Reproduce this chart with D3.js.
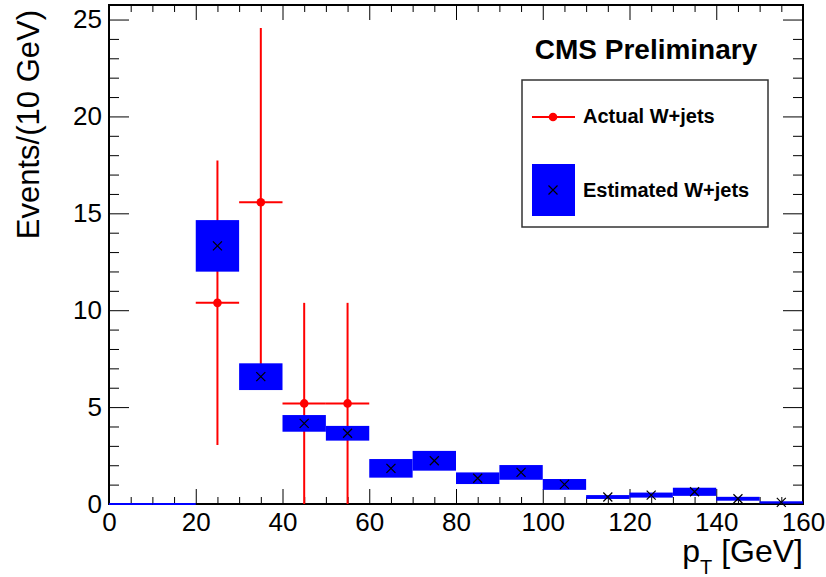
<!DOCTYPE html>
<html>
<head>
<meta charset="utf-8">
<script src="https://cdn.jsdelivr.net/npm/d3@7"></script>
<style>
  body { margin: 0; background: #fff; }
  svg { display: block; font-family: "Liberation Sans", Arial, Helvetica, sans-serif; }
</style>
</head>
<body>
<div id="chart"></div>
<script>
// bins of 10 GeV, lower edges
const binStarts = [0, 10, 20, 30, 40, 50, 60, 70, 80, 90, 100, 110, 120, 130, 140, 150];
const binWidth = 10;

// estimated W+jets (blue boxes): central value and error
const estValue = [0, 0, 13.32, 6.57, 4.16, 3.65, 1.84, 2.23, 1.33, 1.63, 1.01, 0.36, 0.46, 0.63, 0.27, 0.08];
const estError = [0, 0, 1.33, 0.69, 0.43, 0.38, 0.48, 0.51, 0.30, 0.38, 0.28, 0.10, 0.13, 0.21, 0.10, 0.06];

// actual W+jets (red points)
const actualBins = [20, 30, 40, 50];
const actualValue = [10.38, 15.57, 5.19, 5.19];
const actualError = [7.34, 8.99, 5.19, 5.19];

const xMajor = [0, 20, 40, 60, 80, 100, 120, 140, 160];
const yMajor = [0, 5, 10, 15, 20, 25];

const W = 826, H = 577;
const margin = { left: 109, right: 23, top: 5, bottom: 73 };

const svg = d3.select("#chart").append("svg")
    .attr("width", W)
    .attr("height", H);

svg.append("rect").attr("width", W).attr("height", H).style("fill", "#fff");

const x = d3.scaleLinear().domain([0, 160]).range([margin.left, W - margin.right]);
const y = d3.scaleLinear().domain([0, 25.75]).range([H - margin.bottom, margin.top]);

const xMinor = d3.range(0, 161, 5).filter(d => d % 20 !== 0);
const yMinor = d3.range(0, 26, 1).filter(d => d % 5 !== 0);

// bottom axis
const gb = svg.append("g").attr("transform", "translate(0," + y(0) + ")");
gb.call(d3.axisBottom(x).tickValues(xMajor).tickSizeInner(-15).tickSizeOuter(0).tickPadding(9));
gb.append("g").call(d3.axisBottom(x).tickValues(xMinor).tickSizeInner(-7).tickSizeOuter(0).tickFormat(""));

// top axis
const gt = svg.append("g").attr("transform", "translate(0," + y.range()[1] + ")");
gt.call(d3.axisTop(x).tickValues(xMajor).tickSizeInner(-15).tickSizeOuter(0).tickFormat(""));
gt.append("g").call(d3.axisTop(x).tickValues(xMinor).tickSizeInner(-7).tickSizeOuter(0).tickFormat(""));

// left axis
const gl = svg.append("g").attr("transform", "translate(" + x(0) + ",0)");
gl.call(d3.axisLeft(y).tickValues(yMajor).tickSizeInner(-20).tickSizeOuter(0).tickPadding(7));
gl.append("g").call(d3.axisLeft(y).tickValues(yMinor).tickSizeInner(-10).tickSizeOuter(0).tickFormat(""));

// right axis
const gr = svg.append("g").attr("transform", "translate(" + x(160) + ",0)");
gr.call(d3.axisRight(y).tickValues(yMajor).tickSizeInner(-20).tickSizeOuter(0).tickFormat(""));
gr.append("g").call(d3.axisRight(y).tickValues(yMinor).tickSizeInner(-10).tickSizeOuter(0).tickFormat(""));

svg.selectAll(".domain").remove();
svg.selectAll(".tick line").attr("stroke", "#000").attr("stroke-width", 1);
svg.selectAll(".tick text")
    .attr("fill", "#000")
    .style("font-size", "26px")
    .style("font-family", "'Liberation Sans', Arial, Helvetica, sans-serif");

// frame
svg.append("rect")
    .attr("x", x(0)).attr("y", y.range()[1])
    .attr("width", x(160) - x(0)).attr("height", y(0) - y.range()[1])
    .attr("fill", "none")
    .attr("stroke", "#000")
    .attr("stroke-width", 2);

// actual W+jets error bars
const actual = actualBins.map((b, i) => ({ lo: b, v: actualValue[i], e: actualError[i] }));
const red = "#ff0000";
const ga = svg.append("g");
ga.selectAll("line.v")
    .data(actual)
    .enter().append("line")
    .attr("class", "v")
    .attr("x1", d => x(d.lo + binWidth / 2)).attr("x2", d => x(d.lo + binWidth / 2))
    .attr("y1", d => y(Math.max(0, d.v - d.e))).attr("y2", d => y(d.v + d.e))
    .attr("stroke", red).attr("stroke-width", 2);
ga.selectAll("line.h")
    .data(actual)
    .enter().append("line")
    .attr("class", "h")
    .attr("x1", d => x(d.lo)).attr("x2", d => x(d.lo + binWidth))
    .attr("y1", d => y(d.v)).attr("y2", d => y(d.v))
    .attr("stroke", red).attr("stroke-width", 2);

// estimated W+jets boxes
const est = binStarts.map((b, i) => ({ lo: b, v: estValue[i], e: estError[i] }));
const blue = "#0000ff";
svg.append("g").selectAll("rect")
    .data(est)
    .enter().append("rect")
    .attr("x", d => x(d.lo))
    .attr("width", d => x(d.lo + binWidth) - x(d.lo))
    .attr("y", d => d.e > 0 ? y(d.v + d.e) : y(0) - 1)
    .attr("height", d => d.e > 0 ? Math.max(2, y(Math.max(0, d.v - d.e)) - y(d.v + d.e)) : 2)
    .attr("fill", blue);

// X markers
const mk = 4.5;
const gm = svg.append("g");
est.filter(d => d.v > 0).forEach(d => {
    const cx = x(d.lo + binWidth / 2), cy = y(d.v);
    gm.append("path")
        .attr("d", `M${cx - mk},${cy - mk}L${cx + mk},${cy + mk}M${cx - mk},${cy + mk}L${cx + mk},${cy - mk}`)
        .attr("stroke", "#000").attr("stroke-width", 1.2).attr("fill", "none");
});

// red markers
ga.selectAll("circle")
    .data(actual)
    .enter().append("circle")
    .attr("cx", d => x(d.lo + binWidth / 2))
    .attr("cy", d => y(d.v))
    .attr("r", 4.3)
    .attr("fill", red);

// axis titles
svg.append("text")
    .attr("transform", "translate(39,10) rotate(-90)")
    .attr("text-anchor", "end")
    .style("font-size", "31px")
    .text("Events/(10 GeV)");

const xt = svg.append("text")
    .attr("x", x(160)).attr("y", 562)
    .attr("text-anchor", "end")
    .style("font-size", "32px");
xt.append("tspan").text("p");
xt.append("tspan").attr("dy", 12).style("font-size", "20px").text("T");
xt.append("tspan").attr("dy", -12).text("\u00a0[GeV]");

// CMS label
svg.append("text")
    .attr("x", 646).attr("y", 59)
    .attr("text-anchor", "middle")
    .style("font-size", "28px")
    .style("font-weight", "bold")
    .text("CMS Preliminary");

// legend
const lg = svg.append("g");
lg.append("rect")
    .attr("x", 522).attr("y", 80).attr("width", 246).attr("height", 147)
    .attr("fill", "#fff").attr("stroke", "#333").attr("stroke-width", 1.5);
lg.append("line")
    .attr("x1", 532).attr("x2", 575).attr("y1", 117).attr("y2", 117)
    .attr("stroke", red).attr("stroke-width", 2);
lg.append("circle").attr("cx", 553).attr("cy", 117).attr("r", 4.3).attr("fill", red);
lg.append("text").attr("x", 583).attr("y", 123)
    .style("font-size", "20px").style("font-weight", "bold")
    .text("Actual W+jets");
lg.append("rect").attr("x", 532).attr("y", 164).attr("width", 43).attr("height", 52).attr("fill", blue);
lg.append("path")
    .attr("d", `M${553 - mk},${190 - mk}L${553 + mk},${190 + mk}M${553 - mk},${190 + mk}L${553 + mk},${190 - mk}`)
    .attr("stroke", "#000").attr("stroke-width", 1.2);
lg.append("text").attr("x", 583).attr("y", 197)
    .style("font-size", "20px").style("font-weight", "bold")
    .text("Estimated W+jets");
</script>
</body>
</html>
